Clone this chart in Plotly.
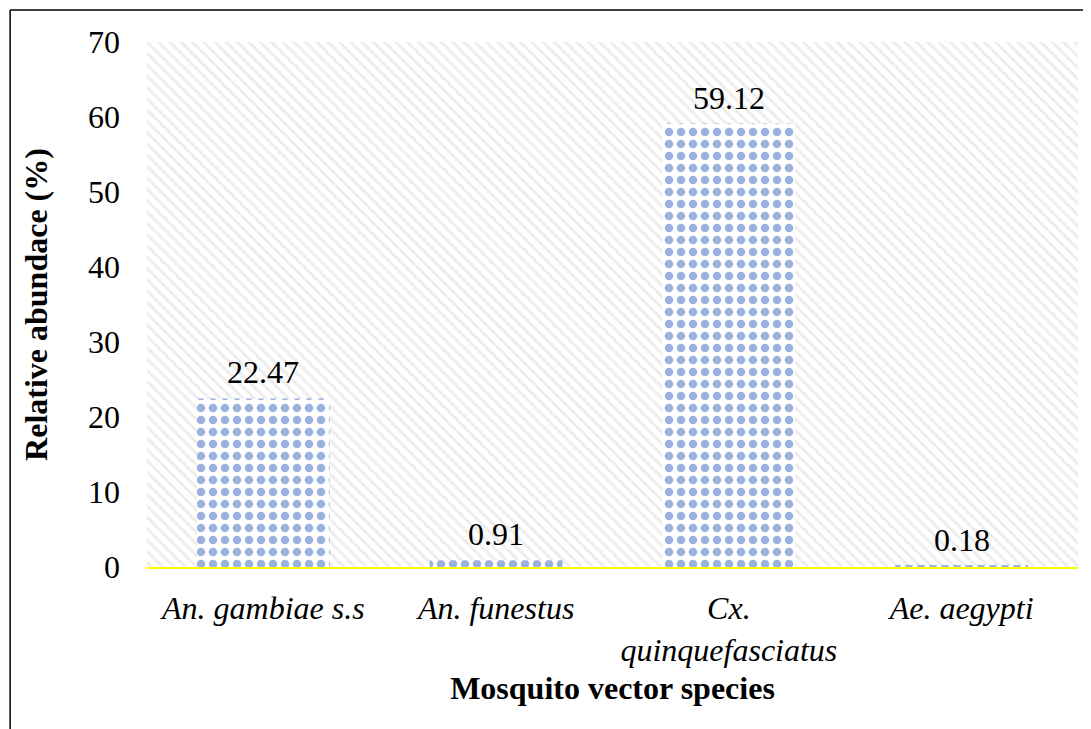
import plotly.graph_objects as go

species = ["<i>An. gambiae s.s</i>", "<i>An. funestus</i>", "<i>Cx.</i><br><i>quinquefasciatus</i>", "<i>Ae. aegypti</i>"]
abundance = [22.47, 0.91, 59.12, 0.18]
labels = ["22.47", "0.91", "59.12", "0.18"]
y_ticks = [0, 10, 20, 30, 40, 50, 60, 70]
y_max = 70

positions = list(range(len(species)))
FONT = "Liberation Serif, Times New Roman, serif"
FS = 32

fig = go.Figure()

# hatched plot-area background (one full-width band per category)
fig.add_trace(go.Bar(
    x=positions, y=[y_max] * len(positions), width=1.0,
    marker=dict(color="white", line=dict(width=0),
                pattern=dict(shape="\\", fgcolor="#d9d9d9", bgcolor="white", size=8, solidity=0.35)),
    hoverinfo="skip", showlegend=False,
))

fig.add_trace(go.Bar(
    x=positions, y=abundance, width=0.57,
    marker=dict(color="white", line=dict(width=0),
                pattern=dict(shape=".", fgcolor="#3566BC", bgcolor="white", size=12, solidity=0.4)),
    showlegend=False,
))

for xp, yv, lab in zip(positions, abundance, labels):
    fig.add_annotation(x=xp, y=yv, text=lab, showarrow=False, yanchor="bottom", yshift=6,
                       font=dict(family=FONT, size=FS, color="black"))

fig.update_layout(
    width=1083, height=721,
    margin=dict(l=139, r=13, t=34, b=162),
    barmode="overlay",
    paper_bgcolor="white", plot_bgcolor="white",
    font=dict(family=FONT, size=FS, color="black"),
    xaxis=dict(range=[-0.5, 3.5], tickmode="array", tickvals=positions, ticktext=species,
               showgrid=False, zeroline=False, showline=True, linecolor="#FFFF00", linewidth=2,
               ticks="", ticklabelstandoff=12,
               tickfont=dict(family=FONT, size=FS, color="black"),
               title=dict(text="<b>Mosquito vector species</b>", standoff=10,
                          font=dict(family=FONT, size=FS, color="black"))),
    yaxis=dict(range=[0, y_max], tickmode="array", tickvals=y_ticks,
               showgrid=False, zeroline=False, showline=False, ticks="",
               ticklabelstandoff=26,
               tickfont=dict(family=FONT, size=FS, color="black"),
               title=dict(text="<b>Relative abundace (%)</b>", standoff=30,
                          font=dict(family=FONT, size=FS, color="black"))),
    shapes=[
        dict(type="line", xref="paper", yref="paper", x0=-0.147, x1=1.2, y0=1.061, y1=1.061,
             line=dict(color="black", width=1.5)),
        dict(type="line", xref="paper", yref="paper", x0=-0.147, x1=-0.147, y0=1.061, y1=-0.5,
             line=dict(color="black", width=1.5)),
    ],
)

fig.write_html("out.html")
